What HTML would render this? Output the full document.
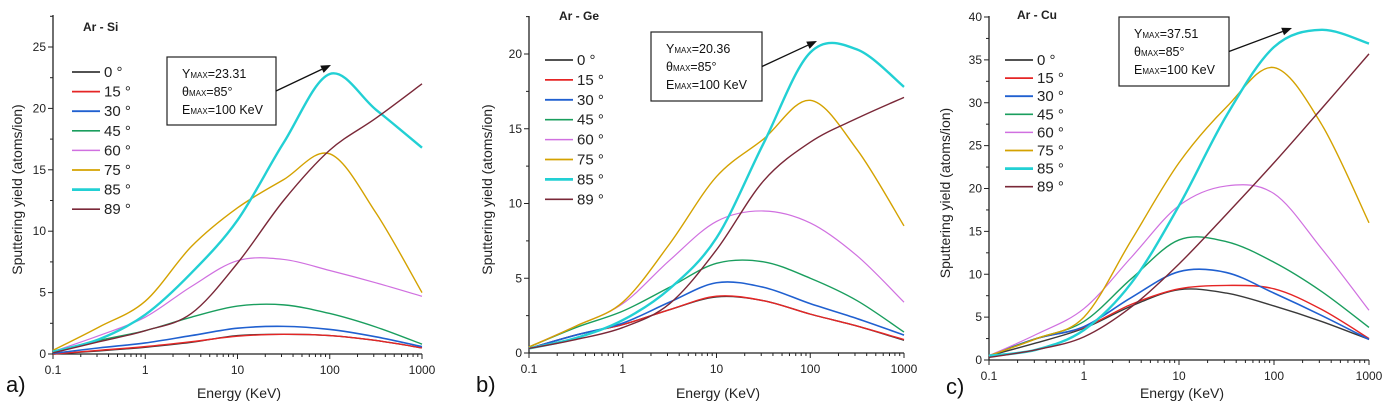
<!DOCTYPE html>
<html><head><meta charset="utf-8"><style>
body{margin:0;background:#fff;}
svg{display:block;font-family:"Liberation Sans",Arial,sans-serif;}
</style></head><body>
<svg id="fig" width="1390" height="410" viewBox="0 0 1390 410"></svg>
<script>
const energiesLog = [-1,-0.5,0,0.5,1,1.5,2,2.5,3];
const angles = ["0 °","15 °","30 °","45 °","60 °","75 °","85 °","89 °"];
const xTickLabels = ["0.1","1","10","100","1000"];
// Ar-Si
const si0=[0,0.25,0.55,0.95,1.5,1.6,1.5,1.1,0.5];
const si15=[0,0.3,0.6,1.0,1.45,1.6,1.5,1.1,0.5];
const si30=[0.05,0.5,0.9,1.5,2.1,2.25,2.0,1.4,0.6];
const si45=[0.1,1.1,1.9,3.0,3.9,4.0,3.3,2.2,0.8];
const si60=[0.2,1.5,3.0,5.5,7.6,7.7,6.8,5.8,4.7];
const si75=[0.3,2.2,4.3,8.75,11.9,14.2,16.3,11.5,5.0];
const si85=[0.2,1.2,3.2,6.6,10.9,17.2,22.8,19.9,16.8];
const si89=[0.1,1.0,1.9,3.3,7.4,12.5,16.6,19.2,22.0];
const siYTicks=[0,5,10,15,20,25];
// Ar-Ge
const ge0=[0.3,1.2,1.9,2.9,3.75,3.5,2.6,1.8,0.85];
const ge15=[0.3,1.2,1.9,2.9,3.8,3.5,2.6,1.8,0.9];
const ge30=[0.3,1.2,2.0,3.4,4.7,4.4,3.3,2.3,1.2];
const ge45=[0.4,1.7,2.8,4.4,6.0,6.1,5.0,3.5,1.4];
const ge60=[0.4,1.8,3.3,6.2,8.8,9.5,8.7,6.5,3.4];
const ge75=[0.4,1.8,3.4,7.3,11.8,14.3,16.9,13.6,8.5];
const ge85=[0.3,1.0,2.2,4.3,7.7,14.0,20.1,20.3,17.8];
const ge89=[0.3,0.9,1.7,3.3,6.9,11.5,14.1,15.7,17.1];
const geYTicks=[0,5,10,15,20];
// Ar-Cu
const cu0=[0.5,2.0,3.7,6.3,8.2,7.8,6.3,4.5,2.4];
const cu15=[0.5,2.5,3.8,6.5,8.3,8.7,8.3,5.9,2.5];
const cu30=[0.5,2.5,3.9,7.3,10.3,10.2,7.8,5.2,2.4];
const cu45=[0.5,2.5,4.5,9.5,14.0,13.8,11.4,8.0,3.8];
const cu60=[0.5,3.0,6.0,12.0,18.0,20.3,19.4,13.0,5.8];
const cu75=[0.5,2.5,5.0,14.0,23.0,29.5,34.1,27.5,16.0];
const cu85=[0.5,1.2,3.5,9.0,18.0,28.5,36.5,38.5,36.9];
const cu89=[0.3,1.2,2.7,6.2,11.2,17.0,23.0,29.3,35.7];
const cuYTicks=[0,5,10,15,20,25,30,35,40];

const colors=["#3a3a3a","#e52525","#2060d0","#1a9e5e","#d070e0","#d4a200","#22d0d4","#7a2838"];
const widths=[1.4,1.4,1.6,1.4,1.2,1.4,2.4,1.4];
const NS="http://www.w3.org/2000/svg";
const svg=document.getElementById('fig');
function mk(tag,attrs,parent){const e=document.createElementNS(NS,tag);for(const k in attrs)e.setAttribute(k,attrs[k]);(parent||svg).appendChild(e);return e;}

const panels=[
 {key:"a",title:"Ar - Si",series:[si0,si15,si30,si45,si60,si75,si85,si89],yTicks:siYTicks,ymax:25,x0:53,x1:422,y0:354,yTop:47,axTop:15,
  legX:72,legY:72,legStep:19.6,titleX:83,titleY:31,box:[167,57,109,68],arrowTo:[331,65],ymaxTxt:"23.31",lab:[6,392],xtc:239,ytx:22},
 {key:"b",title:"Ar - Ge",series:[ge0,ge15,ge30,ge45,ge60,ge75,ge85,ge89],yTicks:geYTicks,ymax:20,x0:529,x1:904,y0:353,yTop:54,axTop:16,
  legX:545,legY:60,legStep:19.9,titleX:559,titleY:20,box:[651,32,111,69],arrowTo:[817,41],ymaxTxt:"20.36",lab:[476,392],xtc:718,ytx:492},
 {key:"c",title:"Ar - Cu",series:[cu0,cu15,cu30,cu45,cu60,cu75,cu85,cu89],yTicks:cuYTicks,ymax:40,x0:989,x1:1369,y0:360,yTop:17,axTop:16,
  legX:1005,legY:60,legStep:18.1,titleX:1017,titleY:19,box:[1119,17,110,69],arrowTo:[1292,28],ymaxTxt:"37.51",lab:[946,394],xtc:1182,ytx:950}
];

panels.forEach(p=>{
 const g=mk('g',{});
 
 
 const xs=lg=>p.x0+(lg+1)/4*(p.x1-p.x0);
 const ys=v=>p.y0-v/p.ymax*(p.y0-p.yTop);
 const ax=mk('path',{d:`M${p.x0},${p.axTop}V${p.y0}H${p.x1}`,stroke:"#222",fill:"none","stroke-width":1.3},g);
 
 
 const step=p.yTicks[1]-p.yTicks[0];
 p.yTicks.forEach((t,i)=>{
  mk('line',{x1:p.x0-5,x2:p.x0,y1:ys(t),y2:ys(t),stroke:"#222"},g);
  if(ys(t+step/2)>p.axTop){mk('line',{x1:p.x0-3,x2:p.x0,y1:ys(t+step/2),y2:ys(t+step/2),stroke:"#222"},g);}
  const tl=mk('text',{x:p.x0-7,y:ys(t)+4,"font-size":12,"text-anchor":"end",fill:"#222"},g);tl.textContent=t;
  
  
 });
 xTickLabels.forEach((lab,i)=>{
  const lg=i-1;
  mk('line',{x1:xs(lg),x2:xs(lg),y1:p.y0,y2:p.y0+5,stroke:"#222"},g);
  const tl=mk('text',{x:xs(lg),y:p.y0+20,"font-size":12,"text-anchor":"middle",fill:"#222"},g);tl.textContent=lab;
  
  
  if(i<4)for(let m=2;m<10;m++){const xx=xs(lg+Math.log10(m));mk('line',{x1:xx,x2:xx,y1:p.y0,y2:p.y0+3,stroke:"#222"},g);}
 });
 p.series.forEach((s,si)=>{
  const pts=s.map((v,i)=>[xs(energiesLog[i]),ys(v)]);
  let d=`M${pts[0][0]},${pts[0][1]}`;
  for(let i=0;i<pts.length-1;i++){
   const p0=pts[Math.max(0,i-1)],p1=pts[i],p2=pts[i+1],p3=pts[Math.min(pts.length-1,i+2)];
   const c1=[p1[0]+(p2[0]-p0[0])/6,p1[1]+(p2[1]-p0[1])/6];
   const c2=[p2[0]-(p3[0]-p1[0])/6,p2[1]-(p3[1]-p1[1])/6];
   d+=`C${c1[0]},${c1[1]} ${c2[0]},${c2[1]} ${p2[0]},${p2[1]}`;
  }
  const path=mk('path',{d:d,fill:"none",stroke:colors[si],"stroke-width":widths[si]},g);
  
  
 });
 angles.forEach((a,i)=>{
  const y=p.legY+i*p.legStep;
  const ll=mk('line',{x1:p.legX,x2:p.legX+28,y1:y,y2:y,stroke:colors[i],"stroke-width":widths[i]+0.3},g);
  
  
  const lt=mk('text',{x:p.legX+32,y:y+5,"font-size":15,fill:"#222"},g);lt.textContent=a;
  
  
 });
 const tt=mk('text',{x:p.titleX,y:p.titleY,"font-size":12,"font-weight":"bold",fill:"#222"},g);tt.textContent=p.title;
 
 
 const [bx,by,bw,bh]=p.box;
 const br=mk('rect',{x:bx,y:by,width:bw,height:bh,fill:"#fff",stroke:"#222","stroke-width":1.2},g);
 
 
 const rows=[["Y","MAX","="+p.ymaxTxt],["θ","MAX","=85°"],["E","MAX","=100 KeV"]];
 rows.forEach((r,i)=>{
  const t=mk('text',{x:bx+15,y:by+21+i*18,"font-size":12.5,fill:"#111"},g);
  t.innerHTML=`${r[0]}<tspan font-size="8">${r[1]}</tspan>${r[2]}`;
  
  
 });
 const ay=by+bh/2;
 const [tx,ty]=p.arrowTo;
 const ang=Math.atan2(ty-ay,tx-(bx+bw));
 const hx=tx-10*Math.cos(ang),hy=ty-10*Math.sin(ang);
 mk('line',{x1:bx+bw,y1:ay,x2:hx,y2:hy,stroke:"#111","stroke-width":1.3},g);
 const px=-Math.sin(ang)*4,py=Math.cos(ang)*4;
 const ah=mk('polygon',{points:`${tx},${ty} ${hx+px},${hy+py} ${hx-px},${hy-py}`,fill:"#111"},g);
 
 
 const xt=mk('text',{x:p.xtc,y:398,"font-size":14,"text-anchor":"middle",fill:"#222"},g);xt.textContent="Energy (KeV)";
 
 
 const ymid=(p.y0+p.axTop)/2+5;
 const yt=mk('text',{x:p.ytx,y:ymid,"font-size":14,"text-anchor":"middle",fill:"#222",transform:`rotate(-90 ${p.ytx} ${ymid})`},g);yt.textContent="Sputtering yield (atoms/ion)";
 
 
 const pl=mk('text',{x:p.lab[0],y:p.lab[1],"font-size":22,fill:"#111"},g);pl.textContent=p.key+")";
 
 
});
</script>
</body></html>
